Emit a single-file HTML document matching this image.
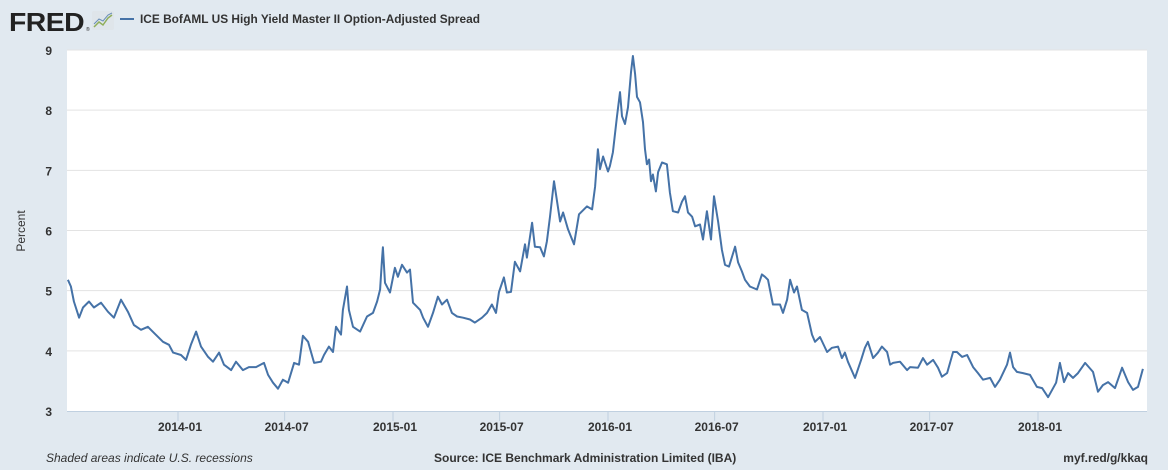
<!DOCTYPE html>
<html><head><meta charset="utf-8"><style>
body{margin:0;width:1168px;height:470px;background:#e1e9f0;font-family:"Liberation Sans",sans-serif;overflow:hidden}
svg{display:block}
</style></head><body>
<svg width="1168" height="470" id="chart">
<g>
<text x="9" y="31" font-size="26" font-weight="bold" fill="#222" letter-spacing="-0.5" textLength="75" lengthAdjust="spacingAndGlyphs">FRED</text>
<text x="86" y="31" font-size="5" fill="#222">®</text>
<rect x="92" y="11" width="22" height="19" rx="2" fill="#dfe5ea"/>
<polyline points="94,27 99,22 103,25 108,18 112,15" fill="none" stroke="#8fae5a" stroke-width="1.5"/>
<polyline points="94,24 99,19 103,21 108,15 112,13" fill="none" stroke="#6a8fb8" stroke-width="1"/>
<line x1="120" y1="19" x2="134" y2="19" stroke="#4572a7" stroke-width="2"/>
<text x="140" y="23" font-size="12" font-weight="bold" fill="#333" textLength="340" lengthAdjust="spacingAndGlyphs">ICE BofAML US High Yield Master II Option-Adjusted Spread</text>
</g>
<rect x="67" y="50" width="1080" height="361" fill="#fff"/>
<g id="grid"></g>
<g id="yticks"></g>
<g id="xticks"></g>
<text transform="translate(25,231) rotate(-90)" text-anchor="middle" font-size="12" fill="#333">Percent</text>
<g id="series"></g>
<text x="46" y="462" font-size="12" font-style="italic" fill="#333">Shaded areas indicate U.S. recessions</text>
<text x="434" y="462" font-size="12" font-weight="bold" fill="#333">Source: ICE Benchmark Administration Limited (IBA)</text>
<text x="1148" y="462" text-anchor="end" font-size="12" font-weight="bold" fill="#333">myf.red/g/kkaq</text>
</svg>
<script>
const yTickValues=[3,4,5,6,7,8,9];
const xTickLabels=["2014-01","2014-07","2015-01","2015-07","2016-01","2016-07","2017-01","2017-07","2018-01"];
const xTickTimes=[2014,2014.496,2015,2015.496,2016,2016.496,2017,2017.496,2018];
const times=[2013.488,2013.502,2013.516,2013.540,2013.558,2013.586,2013.609,2013.642,2013.674,2013.702,2013.735,2013.767,2013.795,2013.828,2013.860,2013.888,2013.930,2013.958,2013.977,2014.014,2014.037,2014.060,2014.084,2014.107,2014.140,2014.163,2014.191,2014.214,2014.247,2014.270,2014.302,2014.330,2014.363,2014.400,2014.419,2014.442,2014.465,2014.488,2014.512,2014.540,2014.563,2014.581,2014.605,2014.633,2014.665,2014.679,2014.702,2014.721,2014.735,2014.758,2014.767,2014.786,2014.795,2014.814,2014.847,2014.879,2014.907,2014.926,2014.940,2014.949,2014.953,2014.963,2014.986,2015.009,2015.023,2015.042,2015.065,2015.079,2015.093,2015.126,2015.140,2015.163,2015.186,2015.209,2015.228,2015.251,2015.274,2015.298,2015.326,2015.358,2015.381,2015.414,2015.437,2015.460,2015.479,2015.493,2015.516,2015.530,2015.549,2015.567,2015.591,2015.614,2015.623,2015.647,2015.660,2015.684,2015.702,2015.716,2015.730,2015.749,2015.777,2015.791,2015.814,2015.842,2015.865,2015.902,2015.926,2015.940,2015.953,2015.963,2015.977,2016.000,2016.009,2016.023,2016.042,2016.056,2016.065,2016.079,2016.093,2016.107,2016.116,2016.126,2016.135,2016.149,2016.163,2016.172,2016.181,2016.191,2016.200,2016.209,2016.223,2016.233,2016.251,2016.274,2016.288,2016.302,2016.326,2016.344,2016.358,2016.372,2016.391,2016.405,2016.428,2016.442,2016.460,2016.479,2016.493,2016.512,2016.530,2016.544,2016.563,2016.591,2016.605,2016.623,2016.637,2016.660,2016.693,2016.716,2016.730,2016.744,2016.767,2016.800,2016.814,2016.833,2016.847,2016.865,2016.879,2016.902,2016.926,2016.949,2016.963,2016.986,2017.019,2017.042,2017.070,2017.088,2017.102,2017.116,2017.149,2017.177,2017.195,2017.209,2017.233,2017.256,2017.274,2017.298,2017.312,2017.326,2017.358,2017.391,2017.405,2017.442,2017.465,2017.484,2017.512,2017.535,2017.553,2017.577,2017.605,2017.623,2017.647,2017.670,2017.698,2017.721,2017.744,2017.777,2017.800,2017.823,2017.856,2017.870,2017.884,2017.902,2017.930,2017.963,2017.995,2018.019,2018.047,2018.084,2018.102,2018.121,2018.140,2018.163,2018.186,2018.219,2018.256,2018.279,2018.302,2018.326,2018.358,2018.391,2018.419,2018.442,2018.465,2018.488,2018.507];
const spreads=[5.18,5.07,4.82,4.55,4.72,4.82,4.72,4.80,4.65,4.55,4.85,4.65,4.43,4.35,4.40,4.30,4.15,4.10,3.97,3.93,3.85,4.10,4.32,4.07,3.90,3.82,3.97,3.77,3.68,3.82,3.68,3.73,3.73,3.80,3.60,3.47,3.37,3.52,3.47,3.80,3.77,4.25,4.15,3.80,3.82,3.93,4.07,3.98,4.40,4.27,4.68,5.07,4.68,4.40,4.32,4.57,4.63,4.82,5.02,5.52,5.72,5.13,4.97,5.38,5.23,5.43,5.30,5.35,4.80,4.68,4.55,4.40,4.63,4.90,4.77,4.85,4.63,4.57,4.55,4.52,4.47,4.55,4.63,4.77,4.63,4.98,5.22,4.97,4.98,5.48,5.32,5.77,5.55,6.13,5.73,5.72,5.57,5.82,6.23,6.82,6.15,6.30,6.02,5.77,6.27,6.40,6.35,6.73,7.35,7.02,7.23,6.98,7.07,7.30,7.90,8.30,7.90,7.77,8.05,8.63,8.90,8.60,8.22,8.13,7.80,7.35,7.10,7.18,6.82,6.93,6.65,6.97,7.13,7.10,6.63,6.32,6.30,6.48,6.57,6.30,6.23,6.07,6.10,5.85,6.32,5.85,6.57,6.15,5.68,5.43,5.40,5.73,5.47,5.32,5.18,5.07,5.02,5.27,5.23,5.18,4.77,4.77,4.63,4.85,5.18,4.97,5.07,4.68,4.63,4.27,4.15,4.23,3.98,4.05,4.07,3.88,3.97,3.82,3.55,3.85,4.05,4.15,3.88,3.97,4.07,3.98,3.77,3.80,3.82,3.68,3.73,3.72,3.88,3.77,3.85,3.72,3.57,3.63,3.98,3.98,3.90,3.93,3.73,3.63,3.52,3.55,3.40,3.52,3.77,3.97,3.73,3.65,3.63,3.60,3.40,3.38,3.23,3.47,3.80,3.48,3.63,3.55,3.63,3.80,3.65,3.32,3.43,3.48,3.38,3.72,3.48,3.35,3.40,3.70];
const NS="http://www.w3.org/2000/svg";
const X0=67,X1=1147,Y0=50,Y1=411;
function xScale(t){return 178+(t-2014)*215;}
function yScale(v){return Y1-(v-3)/6*(Y1-Y0);}
function mk(tag,attrs,parent){const e=document.createElementNS(NS,tag);for(const k in attrs)e.setAttribute(k,attrs[k]);parent.appendChild(e);return e;}
const grid=document.getElementById('grid'),yt=document.getElementById('yticks'),xt=document.getElementById('xticks'),ser=document.getElementById('series');
yTickValues.forEach(v=>{
  const y=yScale(v);
  if(v>3){const g=mk('line',{x1:X0,x2:X1,y1:y,y2:y,stroke:'#e3e3e3','stroke-width':1},grid);
  
  }
  const t=mk('text',{x:52,y:y+5,'text-anchor':'end','font-size':12,'font-weight':'bold',fill:'#333'},yt);
  t.textContent=v;
  
  
});
const base=mk('line',{x1:X0,x2:X1,y1:Y1+0.5,y2:Y1+0.5,stroke:'#c0d0e0','stroke-width':1},xt);


xTickLabels.forEach((lab,i)=>{
  const x=xScale(xTickTimes[i]);
  const tk=mk('line',{x1:x,x2:x,y1:Y1,y2:Y1+10,stroke:'#c0d0e0','stroke-width':1},xt);
  
  
  const t=mk('text',{x:x+2,y:431,'text-anchor':'middle','font-size':12,'font-weight':'bold',fill:'#333'},xt);
  t.textContent=lab;
  
  
});
const pts=times.map((t,i)=>xScale(t).toFixed(1)+','+yScale(spreads[i]).toFixed(1)).join(' ');
const line=mk('polyline',{points:pts,fill:'none',stroke:'#4572a7','stroke-width':2,'stroke-linejoin':'round'},ser);


</script>
</body></html>
